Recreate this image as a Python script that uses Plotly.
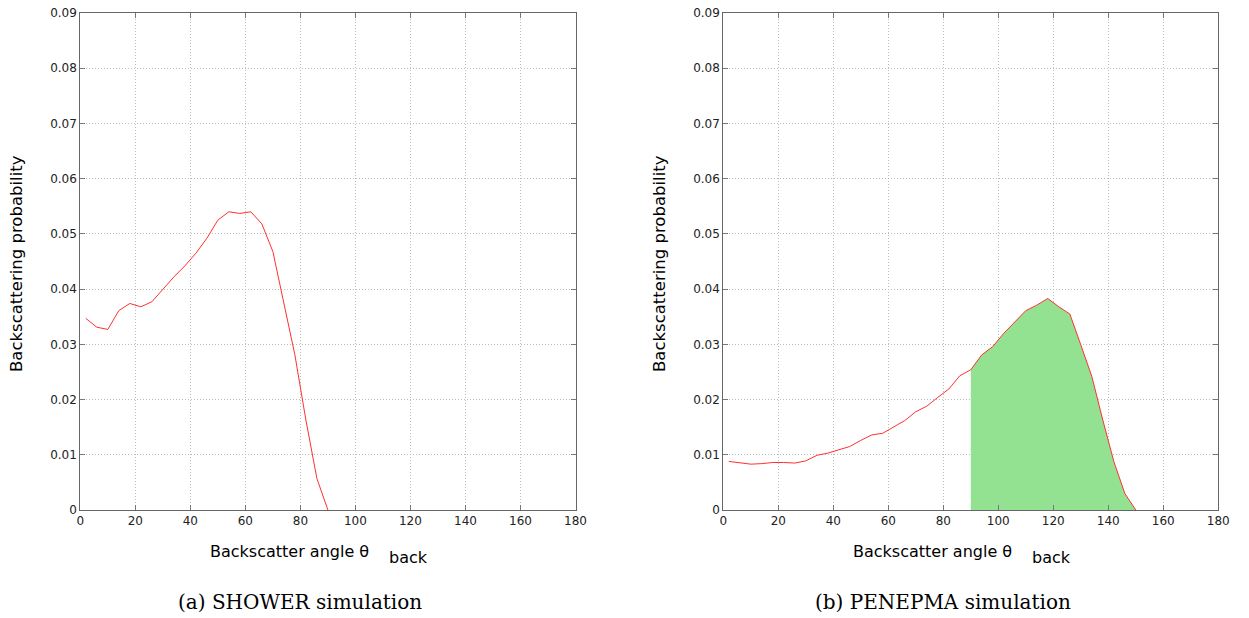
import plotly.graph_objects as go

# ---- data ----
angles = [2, 6, 10, 14, 18, 22, 26, 30, 34, 38, 42, 46, 50, 54, 58, 62, 66, 70, 74, 78, 82, 86, 90,
          94, 98, 102, 106, 110, 114, 118, 122, 126, 130, 134, 138, 142, 146, 150]
shower_angles = angles[:23]
shower_prob = [0.0347, 0.0331, 0.0327, 0.0361, 0.0374, 0.0368, 0.0377, 0.0400, 0.0422, 0.0442,
               0.0465, 0.0492, 0.0525, 0.0540, 0.0537, 0.0540, 0.0518, 0.0468, 0.0374, 0.0281,
               0.0163, 0.0057, 0.0]
penepma_prob = [0.0088, 0.0086, 0.0083, 0.0084, 0.0086, 0.0086, 0.0085, 0.0089, 0.0099, 0.0103,
                0.0109, 0.0115, 0.0126, 0.0136, 0.0139, 0.0150, 0.0162, 0.0178, 0.0188, 0.0204,
                0.0219, 0.0243, 0.0254, 0.0281, 0.0296, 0.0320, 0.0341, 0.0361, 0.0371, 0.0383,
                0.0368, 0.0355, 0.0299, 0.0242, 0.0163, 0.0088, 0.0030, 0.0]
fill_start = 90
x_ticks = [0, 20, 40, 60, 80, 100, 120, 140, 160, 180]
y_ticks = [0, 0.01, 0.02, 0.03, 0.04, 0.05, 0.06, 0.07, 0.08, 0.09]
y_tick_text = ["0", "0.01", "0.02", "0.03", "0.04", "0.05", "0.06", "0.07", "0.08", "0.09"]
captions = ["(a) SHOWER simulation", "(b) PENEPMA simulation"]
x_title = "Backscatter angle θ"
x_title_sub = "back"
y_title = "Backscattering probability"

W, H = 1249, 618
fig = go.Figure()

fill_x = [a for a in angles if a >= fill_start]
fill_y = [p for a, p in zip(angles, penepma_prob) if a >= fill_start]

fig.add_trace(go.Scatter(x=fill_x, y=fill_y, xaxis="x2", yaxis="y2", mode="lines",
                         fill="tozeroy", fillcolor="#92e292", line=dict(width=0),
                         hoverinfo="skip", showlegend=False))
fig.add_trace(go.Scatter(x=shower_angles, y=shower_prob, xaxis="x", yaxis="y", mode="lines",
                         line=dict(color="#ff3030", width=1), showlegend=False))
fig.add_trace(go.Scatter(x=angles, y=penepma_prob, xaxis="x2", yaxis="y2", mode="lines",
                         line=dict(color="#ff3030", width=1), showlegend=False))

ydom = [1 - 510 / H, 1 - 13 / H]
xdoms = [[80.3 / W, 575.5 / W], [723.3 / W, 1218.3 / W]]

tickfont = dict(family="DejaVu Sans", size=12, color="#222")
common = dict(ticks="inside", ticklen=5, tickcolor="#777", showline=True, linecolor="#666",
              linewidth=1, mirror="ticks", showgrid=True, gridcolor="#bdbdbd",
              griddash="1px,2px", gridwidth=1, zeroline=False, tickfont=tickfont,
              automargin=False)
for i, dom in enumerate(xdoms):
    s = "" if i == 0 else "2"
    fig.layout["xaxis" + s] = dict(domain=dom, range=[0, 180], tickmode="array",
                                   tickvals=x_ticks, anchor="y" + s, **common)
    fig.layout["yaxis" + s] = dict(domain=ydom, range=[0, 0.09], tickmode="array",
                                   tickvals=y_ticks, ticktext=y_tick_text, anchor="x" + s,
                                   **common)

annotations = []
for i in range(2):
    off = 643 * i
    annotations.append(dict(
        text=x_title, x=(208 + off) / W, y=1 - 551 / H, xanchor="left", yanchor="middle",
        xref="paper", yref="paper", showarrow=False,
        font=dict(family="DejaVu Sans", size=16, color="#000")))
    annotations.append(dict(
        text=x_title_sub, x=(387 + off) / W, y=1 - 557 / H, xanchor="left", yanchor="middle",
        xref="paper", yref="paper", showarrow=False,
        font=dict(family="DejaVu Sans", size=16, color="#000")))
    annotations.append(dict(
        text=y_title, x=(16 + off) / W, y=1 - 264 / H, xanchor="center", yanchor="middle",
        xref="paper", yref="paper", showarrow=False, textangle=-90,
        font=dict(family="DejaVu Sans", size=16.5, color="#000")))
    annotations.append(dict(
        text=captions[i], x=(300 + off) / W, y=1 - 602 / H, xanchor="center", yanchor="middle",
        xref="paper", yref="paper", showarrow=False,
        font=dict(family="DejaVu Serif", size=20, color="#000")))

fig.update_layout(width=W, height=H, margin=dict(l=0, r=0, t=0, b=0),
                  paper_bgcolor="white", plot_bgcolor="white",
                  annotations=annotations, showlegend=False)

fig.write_html("out.html", config={"displayModeBar": False},
               post_script="document.body.style.margin='0';document.body.style.overflow='hidden';")
